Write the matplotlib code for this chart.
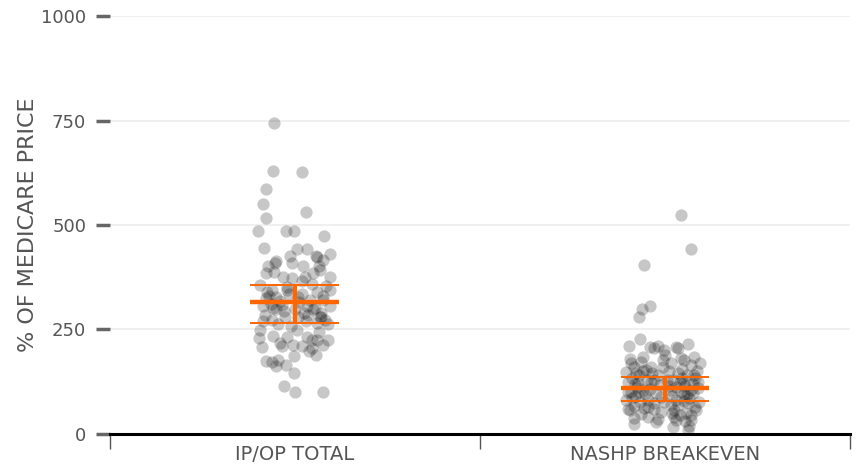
import matplotlib
matplotlib.use('Agg')
import matplotlib.pyplot as plt

# Categories
categories = ['IP/OP TOTAL', 'NASHP BREAKEVEN']

# IP/OP total: (horizontal jitter, % of Medicare price)
ipop_jit = [-0.057, -0.060, 0.019, -0.079, -0.087, 0.030, -0.079, -0.099, -0.024, -0.002,
            0.079, -0.084, 0.007, 0.034, 0.056, 0.095, -0.050, -0.012, -0.072, -0.009,
            0.022, 0.064, 0.077, -0.054, 0.059, -0.077, -0.032, -0.009, 0.027, 0.068,
            0.095, 0.045, -0.095, -0.063, -0.022, 0.018, 0.059, 0.095, -0.077, -0.050,
            0.009, 0.077, -0.086, -0.059, -0.036, 0.032, 0.054, 0.095, -0.081, -0.027,
            0.036, 0.068, 0.081, -0.063, 0.009, -0.095, -0.096, -0.090, -0.060, -0.036,
            -0.021, 0.005, 0.018, 0.045, 0.077, 0.090, 0.037, 0.057, -0.003, -0.077,
            -0.063, -0.045, -0.050, -0.025, -0.003, -0.030, 0.000, 0.077, 0.032, -0.041,
            -0.005, 0.059, 0.045, -0.070, -0.040, -0.065, -0.020, 0.050, 0.070, 0.060,
            0.030, -0.045, 0.085, 0.000, -0.030, 0.040, 0.075, -0.085, 0.020, -0.055,
            0.050, -0.010, 0.090, 0.065, -0.075, -0.015, 0.025, 0.070, -0.050, 0.010]
ipop_vals = [745, 630, 627, 586, 550, 530, 516, 486, 486, 486,
             473, 446, 443, 443, 427, 430, 415, 427, 403, 408,
             403, 403, 416, 408, 424, 384, 376, 372, 376, 392,
             376, 360, 356, 344, 344, 336, 340, 344, 325, 328,
             328, 321, 305, 301, 309, 305, 301, 305, 285, 281,
             285, 281, 273, 273, 281, 249, 229, 209, 235, 210,
             231, 249, 210, 225, 213, 225, 199, 188, 187, 175,
             173, 177, 163, 165, 145, 115, 101, 101, 233, 217,
             213, 225, 205, 330, 318, 310, 352, 300, 290, 265,
             270, 262, 355, 300, 295, 320, 330, 270, 365, 388,
             385, 258, 262, 245, 340, 335, 290, 280, 300, 315]

# NASHP breakeven
nashp_jit = [0.043, 0.070, -0.056, -0.040, -0.061, -0.071, -0.098, -0.068, -0.042, -0.020,
             0.061, 0.034, 0.079, -0.029, -0.002, 0.030, -0.092, -0.065, -0.038, -0.006,
             0.016, 0.043, 0.070, -0.105, -0.078, -0.051, -0.020, 0.034, 0.079, -0.101,
             -0.074, -0.038, 0.021, 0.052, 0.088, -0.092, -0.060, -0.024, 0.012, 0.043,
             0.075, -0.105, -0.069, -0.029, -0.002, 0.030, 0.061, 0.093, -0.096, -0.056,
             -0.011, 0.025, 0.057, 0.084, -0.083, -0.047, 0.030, 0.070, -0.083, 0.021,
             0.061, -0.025, -0.085, -0.090, -0.075, -0.080, -0.085, -0.065, -0.070, -0.050,
             -0.055, -0.045, -0.040, -0.035, -0.030, -0.015, -0.010, 0.005, 0.010, 0.020,
             0.030, 0.035, 0.045, 0.050, 0.055, 0.060, 0.065, 0.070, 0.075, 0.080,
             0.085, 0.040, 0.055, 0.065, 0.045, -0.100, -0.100, -0.095, 0.090, 0.095,
             -0.060, 0.000, 0.025, -0.020, 0.015, -0.005, 0.050, -0.080, -0.060, -0.090,
             -0.070, 0.010, 0.040, 0.060, 0.080, 0.020, -0.045, -0.030, 0.070, 0.050]
nashp_vals = [524, 442, 404, 306, 298, 279, 211, 227, 209, 211,
              215, 205, 185, 205, 201, 209, 169, 173, 161, 177,
              169, 181, 165, 149, 145, 153, 141, 145, 141, 125,
              121, 125, 129, 121, 125, 101, 105, 97, 105, 101,
              97, 81, 77, 73, 77, 81, 73, 77, 57, 61,
              53, 57, 49, 57, 38, 41, 33, 33, 25, 17,
              10, 29, 160, 135, 112, 90, 68, 48, 140, 128,
              95, 82, 108, 145, 60, 118, 88, 130, 150, 92,
              112, 70, 135, 95, 115, 140, 85, 105, 120, 65,
              150, 45, 30, 20, 155, 100, 60, 180, 110, 170,
              185, 190, 40, 35, 70, 160, 178, 120, 150, 85,
              100, 115, 125, 95, 135, 50, 65, 130, 45, 80]

# Summary markers (centre line and upper/lower bars)
centre = [316, 110]
upper = [356, 136]
lower = [266, 79]

orange = '#ff6600'
grey_txt = '#555555'

plt.rcParams['font.family'] = ['DejaVu Sans']

fig = plt.figure(figsize=(8.64, 4.71), dpi=100)
ax = fig.add_axes([0.127, 0.0786, 0.857, 0.8874])

ax.set_xlim(-0.5, 1.5)
ax.set_ylim(0, 1000)

# Gridlines
ax.set_yticks([0, 250, 500, 750, 1000])
ax.yaxis.grid(True, color='#eeeeee', linewidth=1.2, zorder=0)
ax.set_axisbelow(True)

# Points
for i, (jit, vals) in enumerate([(ipop_jit, ipop_vals), (nashp_jit, nashp_vals)]):
    xs = [i + j for j in jit]
    ax.scatter(xs, vals, s=78, color='black', alpha=0.22, linewidths=0, zorder=2)

# Summary bars
hw = 0.12
for i in range(len(categories)):
    ax.hlines(centre[i], i - hw, i + hw, color=orange, linewidth=3.2, zorder=3)
    ax.hlines([upper[i], lower[i]], i - hw, i + hw, color=orange, linewidth=1.4, zorder=3)
    ax.vlines(i, lower[i], upper[i], color=orange, linewidth=3.0, zorder=3)

# Axes styling
for s in ['top', 'right', 'left']:
    ax.spines[s].set_visible(False)
ax.spines['bottom'].set_color('black')
ax.spines['bottom'].set_linewidth(2.2)
ax.spines['bottom'].set_zorder(4)

ax.set_xticks([-0.5, 0.5, 1.5])
ax.set_xticklabels([])
ax.set_xticks([0, 1], minor=True)
ax.set_xticklabels(categories, minor=True, fontsize=14, color=grey_txt)
ax.tick_params(axis='x', which='major', direction='out', length=11, width=1, color='#555555')
ax.tick_params(axis='x', which='minor', length=0, pad=8)

ax.tick_params(axis='y', direction='out', length=10, width=2.5, color='#666666',
               labelsize=13, labelcolor=grey_txt, pad=7)

ax.set_ylabel('% OF MEDICARE PRICE', fontsize=16, color=grey_txt, labelpad=2)

fig.savefig('out.png', dpi=100)
